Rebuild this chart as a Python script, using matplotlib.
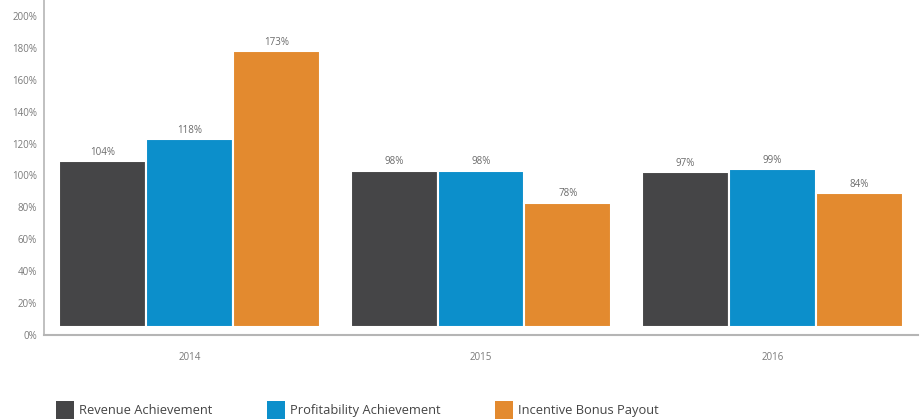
import matplotlib
matplotlib.use("Agg")
import matplotlib.pyplot as plt
import numpy as np
from matplotlib.patches import Patch

plt.rcParams['font.family'] = ['Open Sans', 'DejaVu Sans']

years = ["2014", "2015", "2016"]
series_names = ["Revenue Achievement", "Profitability Achievement", "Incentive Bonus Payout"]
revenue = [104, 98, 97]
profitability = [118, 98, 99]
bonus = [173, 78, 84]
colors = ["#454547", "#0c8fcb", "#e38a2f"]
yticks = [0, 20, 40, 60, 80, 100, 120, 140, 160, 180, 200]
baseline = 5  # bars sit slightly above the axis line in the original

fig = plt.figure(figsize=(9.22, 4.19), dpi=100)
ax = fig.add_axes([44/922, 84/419, (918-44)/922, 335/419])

x = np.arange(len(years))
slot = 0.298
for i, (vals, c) in enumerate(zip([revenue, profitability, bonus], colors)):
    pos = x + (i - 1) * slot
    ax.bar(pos, vals, width=slot, bottom=baseline, color=c,
           edgecolor="white", linewidth=1.5)
    for p, v in zip(pos, vals):
        ax.text(p, v + baseline + 2, f"{v}%", ha="center", va="bottom",
                fontsize=7, color="#6b6b6b")

ax.set_xlim(-0.5, 2.5)
ax.set_ylim(0, 210)
ax.set_yticks(yticks)
ax.set_yticklabels([f"{t}%" for t in yticks])
ax.set_xticks(x)
ax.set_xticklabels(years)
ax.tick_params(axis="both", length=0, labelsize=7, colors="#7a7a7a")
ax.tick_params(axis="x", pad=12)
ax.tick_params(axis="y", pad=5)
for s in ["top", "right"]:
    ax.spines[s].set_visible(False)
ax.spines["left"].set_color("#b5b5b5")
ax.spines["bottom"].set_color("#b5b5b5")
ax.spines["left"].set_linewidth(1.2)
ax.spines["bottom"].set_linewidth(1.5)

handles = [Patch(facecolor=c, edgecolor="none") for c in colors]
fig.legend(handles, series_names, loc="center left", ncol=3,
           bbox_to_anchor=(44/922, 9/419), frameon=False,
           fontsize=9.3, handlelength=1.45, handleheight=1.8,
           handletextpad=0.35, columnspacing=4.2, labelcolor="#444444")

fig.savefig("out.png", dpi=100)
